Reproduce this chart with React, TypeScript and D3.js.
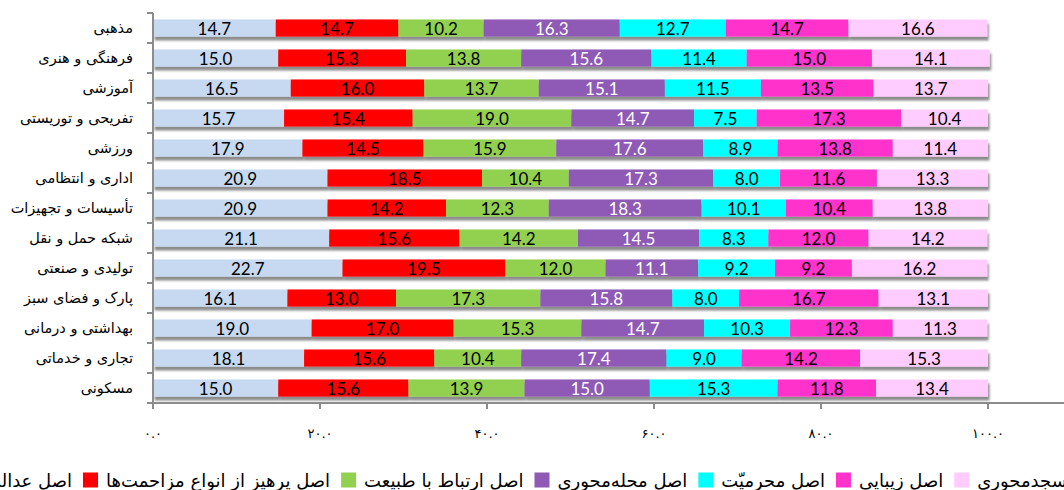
import { useRef, useEffect } from "react";
import * as d3 from "d3";

const categories = [
  "مذهبی",
  "فرهنگی و هنری",
  "آموزشی",
  "تفریحی و توریستی",
  "ورزشی",
  "اداری و انتظامی",
  "تأسیسات و تجهیزات",
  "شبکه حمل و نقل",
  "تولیدی و صنعتی",
  "پارک و فضای سبز",
  "بهداشتی و درمانی",
  "تجاری و خدماتی",
  "مسکونی",
];

const seriesNames = [
  "اصل عدالت‌محوری",
  "اصل پرهیز از انواع مزاحمت‌ها",
  "اصل ارتباط با طبیعت",
  "اصل محله‌محوری",
  "اصل محرمیّت",
  "اصل زیبایی",
  "اصل مسجدمحوری",
];

const adalat = [14.7, 15.0, 16.5, 15.7, 17.9, 20.9, 20.9, 21.1, 22.7, 16.1, 19.0, 18.1, 15.0];
const parhiz = [14.7, 15.3, 16.0, 15.4, 14.5, 18.5, 14.2, 15.6, 19.5, 13.0, 17.0, 15.6, 15.6];
const tabiat = [10.2, 13.8, 13.7, 19.0, 15.9, 10.4, 12.3, 14.2, 12.0, 17.3, 15.3, 10.4, 13.9];
const mahalle = [16.3, 15.6, 15.1, 14.7, 17.6, 17.3, 18.3, 14.5, 11.1, 15.8, 14.7, 17.4, 15.0];
const mahramiat = [12.7, 11.4, 11.5, 7.5, 8.9, 8.0, 10.1, 8.3, 9.2, 8.0, 10.3, 9.0, 15.3];
const zibaei = [14.7, 15.0, 13.5, 17.3, 13.8, 11.6, 10.4, 12.0, 9.2, 16.7, 12.3, 14.2, 11.8];
const masjed = [16.6, 14.1, 13.7, 10.4, 11.4, 13.3, 13.8, 14.2, 16.2, 13.1, 11.3, 15.3, 13.4];

const tickValues = [0, 20, 40, 60, 80, 100];
const tickLabels = ["۰.۰", "۲۰.۰", "۴۰.۰", "۶۰.۰", "۸۰.۰", "۱۰۰.۰"];

const colors = ["#C6D9F1", "#FF0000", "#92D050", "#8E5AB6", "#00FFFF", "#FF33CC", "#FFCCFF"];
const labelColors = ["#000", "#000", "#000", "#fff", "#000", "#000", "#000"];

const W = 1064, H = 490;
const persianFont = "'DejaVu Sans', sans-serif";

export default function App() {
  const svgRef = useRef<SVGSVGElement>(null);

  useEffect(() => {
    if (!svgRef.current) return;
    const svg = d3.select(svgRef.current);
    svg.selectAll("*").remove();

    const allSeries = [adalat, parhiz, tabiat, mahalle, mahramiat, zibaei, masjed];
    const rows = categories.map((c, i) => {
      const r: any = { cat: c };
      allSeries.forEach((s, k) => (r["s" + k] = s[i]));
      return r;
    });
    const keys = allSeries.map((_, k) => "s" + k);
    const stacked = d3.stack().keys(keys)(rows);

    const x = d3.scaleLinear().domain([0, 100]).range([153, 988]);
    const y = d3.scaleBand().domain(categories).range([13, 403]).paddingInner(0.43).paddingOuter(0.215);
    const yb = d3.scaleBand().domain(categories).range([13, 403]);

    const defs = svg.append("defs");
    const f = defs.append("filter").attr("id", "sh").attr("x", "-5%").attr("y", "-50%").attr("width", "110%").attr("height", "200%");
    f.append("feDropShadow").attr("dx", 1.5).attr("dy", 4).attr("stdDeviation", 1.3)
      .attr("flood-color", "#000").attr("flood-opacity", 0.45);

    // bars, one group per row so the shadow sits under the whole bar
    const rowG = svg.append("g").selectAll("g").data(categories).join("g").attr("filter", "url(#sh)");
    rowG.each(function (_c, i) {
      const g = d3.select(this);
      stacked.forEach((layer, k) => {
        const d = layer[i];
        g.append("rect")
          .attr("x", x(d[0]))
          .attr("y", y(categories[i])!)
          .attr("width", x(d[1]) - x(d[0]))
          .attr("height", y.bandwidth())
          .attr("fill", colors[k]);
      });
    });

    // value labels
    stacked.forEach((layer, k) => {
      svg.append("g").selectAll("text").data(layer).join("text")
        .attr("x", (d) => (x(d[0]) + x(d[1])) / 2)
        .attr("y", (_d, i) => y(categories[i])! + y.bandwidth() / 2 + 0.5)
        .attr("text-anchor", "middle")
        .attr("dominant-baseline", "central")
        .attr("font-family", "Lato, sans-serif")
        .attr("font-size", 17)
        .attr("fill", labelColors[k])
        .text((d) => (d[1] - d[0]).toFixed(1));
    });

    // y axis
    const axisColor = "#8c8c8c";
    svg.append("line").attr("x1", 153).attr("x2", 153).attr("y1", 13).attr("y2", 403)
      .attr("stroke", axisColor).attr("stroke-width", 2);
    const bounds = categories.map((c) => yb(c)!);
    svg.append("g").selectAll("line").data(bounds).join("line")
      .attr("x1", 147).attr("x2", 153).attr("y1", (d) => d).attr("y2", (d) => d)
      .attr("stroke", axisColor).attr("stroke-width", 2);
    svg.append("g").selectAll("text").data(categories).join("text")
      .attr("x", 133)
      .attr("y", (c) => yb(c)! + yb.bandwidth() / 2)
      .attr("text-anchor", "end")
      .attr("dominant-baseline", "central")
      .attr("font-family", persianFont)
      .attr("font-size", 14.5)
      .attr("fill", "#000")
      .text((c) => c);

    // x axis
    svg.append("line").attr("x1", 147).attr("x2", W).attr("y1", 403).attr("y2", 403)
      .attr("stroke", axisColor).attr("stroke-width", 2);
    svg.append("g").selectAll("line").data(tickValues).join("line")
      .attr("x1", (d) => x(d)).attr("x2", (d) => x(d)).attr("y1", 403).attr("y2", 409)
      .attr("stroke", axisColor).attr("stroke-width", 2);
    svg.append("g").selectAll("text").data(tickValues).join("text")
      .attr("x", (d) => x(d))
      .attr("y", 433)
      .attr("text-anchor", "middle")
      .attr("dominant-baseline", "central")
      .attr("font-family", persianFont)
      .attr("font-size", 13)
      .attr("fill", "#000")
      .text((_d, i) => tickLabels[i]);

    // legend: swatch left of its text, laid out left to right, anchored on the red swatch
    const fs = 18, sw = 15, gap1 = 8, gap2 = 11, ly = 480;
    const lg = svg.append("g");
    const widths = seriesNames.map((n) => {
      const t = lg.append("text").attr("font-family", persianFont).attr("font-size", fs).text(n);
      const w = (t.node() as SVGTextElement).getComputedTextLength();
      t.remove();
      return w;
    });
    const pos: number[] = [];
    pos[1] = 83;
    pos[0] = pos[1] - gap2 - widths[0] - gap1 - sw;
    for (let k = 2; k < seriesNames.length; k++) {
      pos[k] = pos[k - 1] + sw + gap1 + widths[k - 1] + gap2;
    }
    seriesNames.forEach((n, k) => {
      lg.append("rect").attr("x", pos[k]).attr("y", ly - sw / 2).attr("width", sw).attr("height", sw)
        .attr("fill", colors[k]);
      lg.append("text")
        .attr("x", pos[k] + sw + gap1)
        .attr("y", ly)
        .attr("dominant-baseline", "central")
        .attr("font-family", persianFont)
        .attr("font-size", fs)
        .attr("fill", "#000")
        .text(n);
    });
  }, []);

  return (
    <svg
      ref={svgRef}
      width={W}
      height={H}
      style={{ position: "absolute", left: 0, top: 0, background: "#fff" }}
    />
  );
}
